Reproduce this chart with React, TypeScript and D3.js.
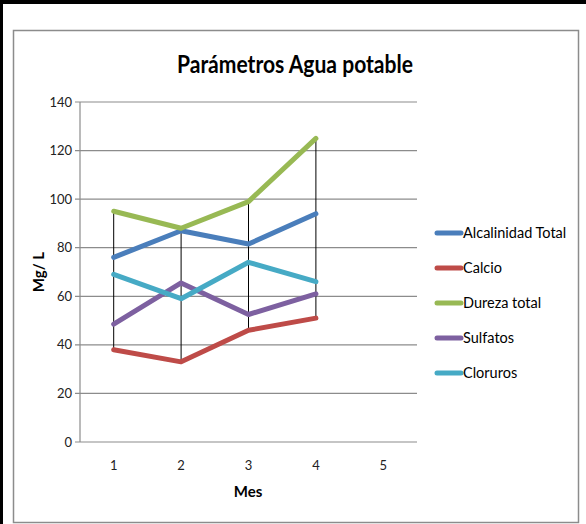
import React from 'react';
import * as d3 from 'd3';

const meses = ['1', '2', '3', '4', '5'];
const yTicks = [0, 20, 40, 60, 80, 100, 120, 140];

const alcalinidad = [76, 87, 81.5, 94];
const calcio = [38, 33, 46, 51];
const dureza = [95, 88, 99, 125];
const sulfatos = [48.5, 65.5, 52.5, 61];
const cloruros = [69, 59, 74, 66];

const seriesNames = ['Alcalinidad Total', 'Calcio', 'Dureza total', 'Sulfatos', 'Cloruros'];
const seriesValues = [alcalinidad, calcio, dureza, sulfatos, cloruros];
const seriesColors = ['#4A7EBB', '#BE4B48', '#98B954', '#7D60A0', '#46AAC5'];

const font = 'Lato, "DejaVu Sans", sans-serif';

export default function App() {
  const width = 586;
  const height = 524;

  const x = d3.scaleBand().domain(meses).range([80, 417]);
  const y = d3.scaleLinear().domain([0, 140]).range([442, 102]);
  const cx = (i: number) => (x(meses[i]) ?? 0) + x.bandwidth() / 2;

  const line = d3.line<number>()
    .x((_, i) => cx(i))
    .y(d => y(d));

  const hiLo = alcalinidad.map((_, i) => {
    const vals = seriesValues.map(s => s[i]);
    return { i, hi: d3.max(vals) as number, lo: d3.min(vals) as number };
  });

  return (
    <svg width={width} height={height} style={{ position: 'absolute', left: 0, top: 0 }}>
      <rect x={0} y={0} width={width} height={height} fill="#fff" />
      {/* outer black frame */}
      <line x1={0} y1={2} x2={586} y2={2} stroke="#000" strokeWidth={4} />
      <line x1={1.5} y1={0} x2={1.5} y2={524} stroke="#000" strokeWidth={3} />
      {/* chart area frame */}
      <rect x={13.5} y={30.5} width={565} height={492} fill="none" stroke="#8c8c8c" strokeWidth={1.5} />

      <text x={295} y={73} textAnchor="middle" fontFamily={font} fontWeight="bold" fontSize={24}
        fill="#000" textLength={236} lengthAdjust="spacingAndGlyphs">
        Parámetros Agua potable
      </text>

      {/* gridlines + y ticks */}
      {yTicks.map(t => (
        <g key={t}>
          <line x1={75} x2={417} y1={y(t)} y2={y(t)} stroke="#8c8c8c" strokeWidth={1.2} />
          <text x={72} y={y(t) + 4.5} textAnchor="end" fontFamily={font} fontSize={13} fill="#222">{t}</text>
        </g>
      ))}
      <line x1={80} x2={80} y1={102} y2={442} stroke="#8c8c8c" strokeWidth={1.2} />

      {/* x tick labels */}
      {meses.map(m => (
        <text key={m} x={(x(m) ?? 0) + x.bandwidth() / 2} y={470} textAnchor="middle" fontFamily={font} fontSize={13} fill="#222">{m}</text>
      ))}

      <text x={248} y={497} textAnchor="middle" fontFamily={font} fontWeight="bold" fontSize={15} fill="#000">Mes</text>
      <text transform="translate(44,272) rotate(-90)" textAnchor="middle" fontFamily={font} fontWeight="bold" fontSize={15} fill="#000">Mg/ L</text>

      {/* high-low lines */}
      {hiLo.map(d => (
        <line key={d.i} x1={cx(d.i)} x2={cx(d.i)} y1={y(d.hi)} y2={y(d.lo)} stroke="#000" strokeWidth={1} />
      ))}

      {seriesValues.map((s, k) => (
        <path key={k} d={line(s) ?? ''} fill="none" stroke={seriesColors[k]} strokeWidth={5} strokeLinejoin="round" strokeLinecap="round" />
      ))}

      {/* legend */}
      {seriesNames.map((n, k) => (
        <g key={n} transform={`translate(0, ${233 + k * 35})`}>
          <line x1={437} x2={461} y1={0} y2={0} stroke={seriesColors[k]} strokeWidth={5} strokeLinecap="round" />
          <text x={463} y={5} fontFamily={font} fontSize={14.5} fill="#000">{n}</text>
        </g>
      ))}
    </svg>
  );
}
